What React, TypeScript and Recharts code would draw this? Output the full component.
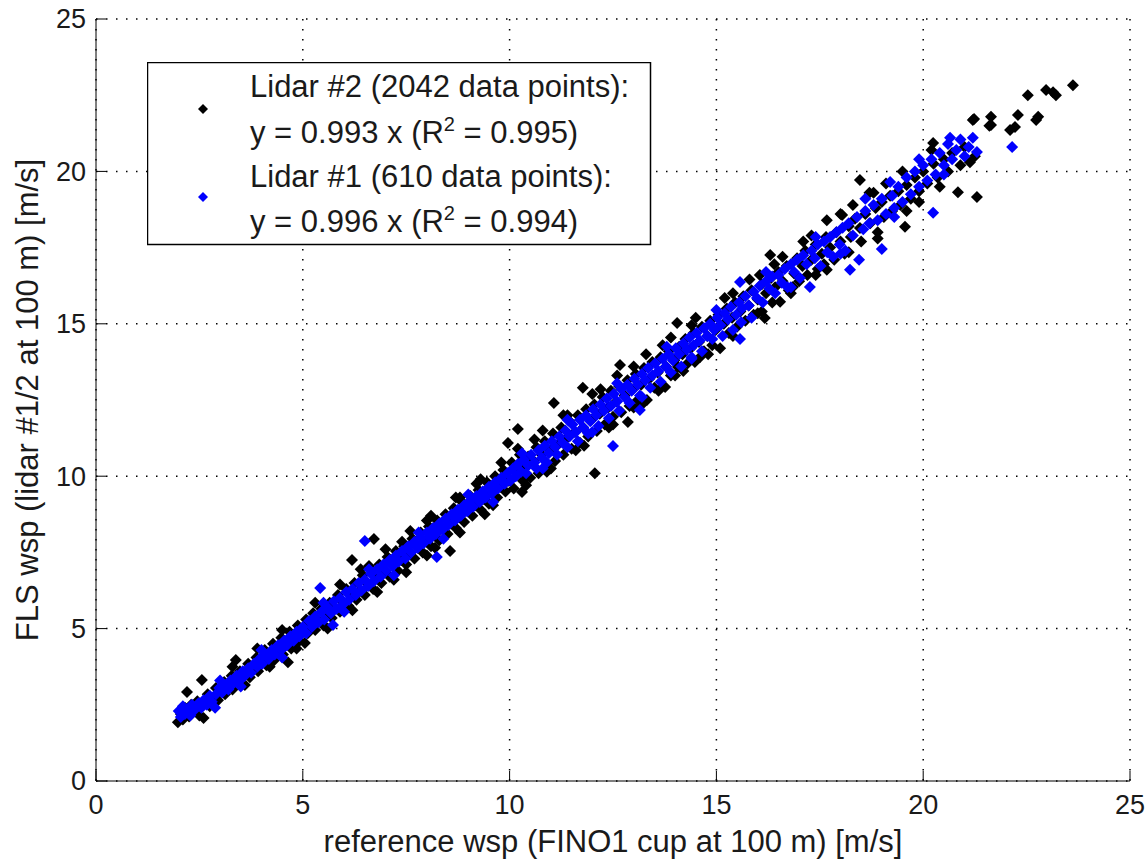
import { ScatterChart, Scatter, XAxis, YAxis, CartesianGrid, Legend } from 'recharts';

// Lidar #2 (black), [reference wsp, FLS wsp] in m/s
const lidar2Low: [number, number][] = [
  [1.98, 1.93], [2.05, 2.2], [2.1, 2.02], [2.15, 2.4], [2.2, 2.92], [2.25, 2.12], [2.3, 2.5], [2.38, 2.3],
  [2.45, 2.62], [2.5, 2.15], [2.56, 3.31], [2.6, 2.07], [2.62, 2.55], [2.7, 2.85], [2.75, 2.45], [2.82, 2.7],
  [2.9, 3.05], [2.95, 2.65], [3.02, 2.95], [3.1, 3.25], [3.12, 2.85], [3.2, 3.1], [3.28, 3.45], [3.3, 3.0],
  [3.38, 3.97], [3.4, 3.3], [3.48, 3.6], [3.52, 3.2], [3.6, 3.5], [3.68, 3.85], [3.72, 3.4], [3.8, 3.7],
  [3.88, 4.05], [3.92, 3.6], [4.0, 3.9], [4.08, 4.3], [4.12, 3.8], [4.2, 4.1], [4.28, 4.5], [4.3, 3.95],
  [4.4, 4.3], [4.48, 4.7], [4.52, 4.15], [4.6, 4.5], [4.64, 3.9], [4.68, 4.9], [4.72, 4.35], [4.8, 4.7],
  [4.88, 5.1], [4.92, 4.6], [5.0, 4.9], [5.05, 4.53],
];

const lidar2Mid: [number, number][] = [
  [5.08, 5.3], [5.12, 4.85], [5.2, 5.1], [5.25, 5.5], [5.3, 4.95], [5.38, 5.25], [5.45, 5.65], [5.5, 5.1],
  [5.58, 5.45], [5.65, 5.85], [5.7, 5.35], [5.78, 5.65], [5.85, 6.1], [5.9, 5.55], [5.98, 5.85], [6.05, 6.3],
  [6.1, 5.75], [6.18, 6.05], [6.19, 7.25], [6.25, 6.5], [6.3, 5.95], [6.38, 6.25], [6.45, 6.75], [6.5, 6.1],
  [6.58, 6.45], [6.65, 6.9], [6.7, 6.3], [6.72, 7.94], [6.78, 6.65], [6.85, 7.1], [6.9, 6.5], [6.98, 6.85],
  [7.05, 7.35], [7.1, 6.7], [7.18, 7.05], [7.25, 7.55], [7.3, 6.9], [7.38, 7.25], [7.45, 7.7], [7.5, 7.1],
  [7.58, 7.45], [7.65, 7.95], [7.7, 7.3], [7.78, 7.65], [7.85, 8.15], [7.9, 7.5], [7.98, 7.85], [8.05, 8.35],
  [8.1, 7.7], [8.18, 8.05], [8.25, 8.55], [8.3, 7.9], [8.38, 8.25], [8.45, 8.75], [8.5, 8.1], [8.56, 7.55],
  [8.58, 8.45], [8.65, 8.95], [8.7, 8.3], [8.78, 8.65], [8.85, 9.15], [8.9, 8.5], [8.98, 8.85], [9.05, 9.35],
  [9.1, 8.7], [9.18, 9.05], [9.25, 9.55], [9.3, 8.9], [9.38, 9.25], [9.45, 9.8], [9.5, 9.1], [9.58, 9.45],
  [9.65, 10.0], [9.7, 9.3], [9.78, 9.65], [9.85, 10.2], [9.9, 9.5], [9.96, 11.09], [9.98, 9.85],
  [6.6, 7.05], [7.4, 7.85], [8.0, 8.55], [8.8, 9.3], [9.2, 9.75], [7.2, 6.6], [8.2, 7.65], [9.6, 9.05],
];

const lidar2High: [number, number][] = [
  [10.05, 10.45], [10.1, 9.6], [10.18, 10.1], [10.2, 11.55], [10.25, 10.7], [10.3, 9.48], [10.32, 9.85], [10.38, 10.3],
  [10.45, 10.65], [10.5, 9.95], [10.58, 10.5], [10.65, 10.95], [10.7, 10.1], [10.78, 10.7], [10.85, 11.15], [10.9, 10.35],
  [10.98, 10.85], [11.05, 11.4], [11.07, 12.4], [11.1, 10.5], [11.18, 11.05], [11.25, 11.6], [11.3, 10.7], [11.38, 11.25],
  [11.45, 11.8], [11.5, 10.9], [11.58, 11.45], [11.65, 12.0], [11.7, 11.1], [11.77, 12.9], [11.78, 11.6], [11.85, 12.2],
  [11.9, 11.3], [11.98, 11.85], [12.05, 12.35], [12.06, 10.1], [12.11, 11.48], [12.18, 12.05], [12.25, 12.6], [12.3, 11.7],
  [12.38, 12.25], [12.45, 12.8], [12.5, 11.95], [12.58, 12.45], [12.67, 13.65], [12.65, 12.95], [12.7, 12.1], [12.78, 12.65],
  [12.86, 11.78], [12.85, 13.15], [12.9, 12.3], [12.98, 12.85], [13.05, 13.35], [13.1, 12.5], [13.18, 13.0], [13.25, 13.55],
  [13.32, 12.5], [13.38, 13.2], [13.45, 13.75], [13.5, 12.9], [13.58, 13.4], [13.65, 13.9], [13.76, 12.93], [13.78, 13.6],
  [13.85, 14.1], [13.9, 13.3], [13.98, 13.8], [14.05, 15.03], [14.07, 13.58], [14.1, 14.25], [14.18, 14.0], [14.25, 14.5],
  [14.3, 13.7], [14.38, 14.2], [14.45, 14.7], [14.48, 13.75], [14.58, 14.4], [14.65, 14.9], [14.7, 14.1], [14.78, 14.6],
  [14.85, 15.1], [14.9, 14.3], [14.98, 14.8],
  [10.6, 11.2], [11.4, 12.0], [12.2, 12.85], [13.0, 13.6], [13.7, 14.3], [14.4, 14.95],
  [10.9, 10.15], [11.6, 10.85], [12.4, 11.6], [13.2, 12.35], [14.0, 13.3], [14.6, 13.9],
];

const lidar2Top: [number, number][] = [
  [15.05, 15.3], [15.09, 14.2], [15.18, 15.0], [15.25, 15.5], [15.3, 14.7], [15.38, 15.2], [15.45, 15.7], [15.5, 14.9],
  [15.58, 15.4], [15.65, 15.9], [15.7, 15.1], [15.78, 15.6], [15.85, 16.1], [15.9, 15.3], [16.0, 15.8], [16.05, 16.6],
  [16.1, 16.3], [16.17, 15.19], [16.2, 16.0], [16.3, 17.26], [16.32, 16.5], [16.35, 15.7], [16.42, 16.2], [16.54, 15.72],
  [16.5, 16.7], [16.6, 16.4], [16.7, 16.9], [16.75, 16.1], [16.85, 16.21], [16.88, 16.65], [16.95, 17.15], [17.0, 16.4],
  [17.08, 16.9], [17.15, 17.4], [17.2, 16.6], [17.3, 17.1], [17.4, 17.6], [17.45, 16.8], [17.55, 17.3], [17.67, 18.4],
  [17.67, 16.77], [17.65, 17.85], [17.75, 17.5], [17.85, 17.1], [17.9, 18.0], [18.04, 18.57], [18.0, 17.7], [18.1, 17.3],
  [18.2, 18.2], [18.25, 17.85], [18.35, 18.45], [18.47, 19.72], [18.47, 18.14], [18.5, 17.7], [18.6, 18.6], [18.7, 19.3],
  [18.72, 18.3], [18.85, 18.8], [18.9, 18.0], [19.0, 19.0], [19.05, 18.5], [19.2, 19.2], [19.25, 18.7], [19.4, 19.35],
  [19.45, 18.9], [19.56, 18.18], [19.6, 19.55], [19.7, 19.1], [19.8, 19.8], [19.9, 19.35], [20.0, 20.0], [20.1, 19.6],
  [20.24, 20.93], [20.25, 20.25], [20.35, 19.8], [20.5, 20.4], [20.6, 20.0], [20.7, 20.6], [20.84, 19.32], [20.9, 20.2],
  [21.0, 20.8], [21.13, 20.3], [21.2, 21.69], [21.3, 19.16], [21.25, 20.5], [21.6, 21.5], [21.23, 21.72], [21.64, 21.79],
  [21.64, 21.52], [22.1, 21.36], [22.22, 21.46], [22.29, 21.85], [22.53, 22.5], [22.73, 21.69], [22.78, 21.79], [22.97, 22.67],
  [23.14, 22.6], [23.21, 22.5], [23.62, 22.83],
  [15.4, 16.0], [16.4, 16.95], [17.1, 17.7], [18.3, 18.9], [19.1, 19.6], [16.0, 15.35], [17.6, 16.95], [19.9, 19.0],
];

// outer edge of the Lidar #2 cloud
const lidar2Edge: [number, number][] = [
  [3.3, 3.75], [3.9, 4.35], [4.5, 4.95], [3.6, 3.15], [4.2, 3.75], [4.85, 4.35],
  [5.3, 5.85], [5.9, 6.45], [6.4, 6.95], [7.0, 7.6], [7.6, 8.2], [8.1, 8.7], [8.7, 9.3], [9.3, 9.9], [9.8, 10.45],
  [5.6, 5.0], [6.2, 5.6], [6.8, 6.2], [7.5, 6.85], [8.0, 7.4], [8.8, 8.15], [9.4, 8.75],
  [10.2, 10.9], [10.8, 11.5], [11.3, 12.0], [12.0, 12.7], [12.6, 13.3], [13.3, 14.0], [13.9, 14.55], [14.5, 15.2],
  [10.4, 9.7], [11.0, 10.25], [11.8, 11.0], [12.5, 11.7], [13.0, 12.25], [13.6, 12.8], [14.2, 13.45], [14.8, 14.0],
  [15.2, 15.85], [15.8, 16.45], [16.6, 17.2], [17.3, 17.9], [18.0, 18.6], [18.8, 19.3], [19.5, 20.0], [20.2, 20.7],
  [15.4, 14.6], [16.1, 15.4], [16.8, 16.0], [17.4, 16.6], [18.2, 17.35], [18.9, 17.8], [19.6, 18.7], [20.4, 19.5],
];

// Lidar #1 (blue)
const lidar1Low: [number, number][] = [
  [2.0, 2.3], [2.05, 2.1], [2.1, 2.45], [2.15, 2.2], [2.2, 2.35], [2.28, 2.15], [2.32, 2.5], [2.4, 2.35],
  [2.48, 2.55], [2.55, 2.4], [2.6, 2.65], [2.68, 2.5], [2.75, 2.8], [2.8, 2.6], [2.88, 2.4], [2.9, 2.85],
  [2.98, 3.05], [3.05, 2.9], [3.12, 3.15], [3.2, 3.0], [3.25, 3.3], [3.32, 3.2], [3.4, 3.45], [3.48, 3.3],
  [3.55, 3.6], [3.6, 3.45], [3.68, 3.7], [3.75, 3.55], [3.82, 3.85], [3.9, 3.75], [3.95, 4.0], [4.02, 3.85],
  [4.1, 4.15], [4.18, 4.0], [4.25, 4.3], [4.32, 4.15], [4.4, 4.45], [4.48, 4.3], [4.55, 4.6], [4.62, 4.45],
  [4.7, 4.75], [4.78, 4.6], [4.85, 4.9], [4.92, 4.75],
];

const lidar1Mid: [number, number][] = [
  [5.0, 5.05], [5.08, 4.85], [5.15, 5.25], [5.22, 5.05], [5.3, 5.4], [5.38, 5.2], [5.42, 6.33], [5.45, 5.55],
  [5.52, 5.3], [5.6, 5.7], [5.68, 5.5], [5.73, 5.12], [5.75, 5.9], [5.82, 5.65], [5.9, 6.0], [5.98, 5.8],
  [6.05, 6.2], [6.12, 5.95], [6.2, 6.3], [6.28, 6.1], [6.35, 6.5], [6.42, 6.25], [6.5, 7.87], [6.5, 6.6],
  [6.58, 6.4], [6.65, 6.8], [6.72, 6.55], [6.8, 6.95], [6.88, 6.7], [6.95, 7.1], [7.02, 6.9], [7.1, 7.25],
  [7.18, 7.05], [7.25, 7.4], [7.32, 7.2], [7.4, 7.55], [7.48, 7.3], [7.55, 7.7], [7.62, 7.5], [7.7, 7.85],
  [7.78, 7.65], [7.85, 8.0], [7.92, 7.8], [8.0, 8.15], [8.08, 7.95], [8.15, 8.3], [8.22, 8.1], [8.24, 7.35],
  [8.3, 8.45], [8.38, 8.25], [8.45, 8.6], [8.52, 8.4], [8.6, 8.75], [8.68, 8.55], [8.75, 8.9], [8.82, 8.7],
  [8.9, 9.05], [8.98, 8.85], [9.05, 9.2], [9.12, 9.0], [9.2, 9.35], [9.28, 9.15], [9.35, 9.5], [9.42, 9.3],
  [9.5, 9.65], [9.58, 9.45], [9.65, 9.8], [9.72, 9.6], [9.8, 9.95], [9.88, 9.75], [9.95, 10.1],
];

const lidar1High: [number, number][] = [
  [10.02, 9.85], [10.08, 10.25], [10.15, 10.0], [10.2, 10.4], [10.28, 10.15], [10.35, 10.55], [10.4, 10.1], [10.45, 10.35],
  [10.52, 10.7], [10.6, 10.45], [10.65, 10.25], [10.7, 10.85], [10.78, 10.6], [10.85, 11.0], [10.9, 10.45], [10.95, 10.75],
  [11.02, 11.15], [11.1, 10.95], [11.15, 10.7], [11.2, 11.3], [11.28, 11.1], [11.35, 11.5], [11.4, 10.95], [11.45, 11.3],
  [11.52, 11.7], [11.6, 11.45], [11.65, 11.15], [11.7, 11.85], [11.78, 11.6], [11.85, 12.0], [11.9, 11.4], [11.95, 11.8],
  [12.02, 12.2], [12.1, 12.0], [12.15, 11.65], [12.2, 12.35], [12.28, 12.15], [12.35, 12.55], [12.4, 11.9], [12.45, 12.3],
  [12.5, 10.99], [12.52, 12.7], [12.6, 12.45], [12.65, 12.15], [12.7, 12.85], [12.78, 12.6], [12.85, 13.0], [12.9, 12.4],
  [12.95, 12.8], [13.02, 13.2], [13.1, 13.0], [13.15, 12.17], [13.15, 12.65], [13.2, 13.35], [13.28, 13.15], [13.35, 13.55],
  [13.4, 12.9], [13.45, 13.3], [13.52, 13.7], [13.6, 13.45], [13.65, 13.1], [13.7, 13.85], [13.78, 13.6], [13.85, 14.0],
  [13.9, 13.4], [13.95, 13.8], [14.02, 14.2], [14.1, 14.0], [14.15, 13.6], [14.2, 14.35], [14.28, 14.15], [14.35, 14.55],
  [14.4, 13.9], [14.45, 14.3], [14.52, 14.7], [14.6, 14.45], [14.65, 14.1], [14.7, 14.85], [14.78, 14.6], [14.85, 15.0],
  [14.9, 14.5], [14.95, 14.8],
];

const lidar1Top: [number, number][] = [
  [15.02, 15.2], [15.1, 14.95], [15.15, 14.6], [15.2, 15.35], [15.28, 15.15], [15.35, 15.55], [15.4, 14.8], [15.48, 15.3],
  [15.57, 16.37], [15.57, 14.5], [15.55, 15.7], [15.62, 15.5], [15.7, 15.9], [15.78, 15.6], [15.85, 15.2], [15.9, 16.05],
  [15.98, 15.85], [16.05, 16.25], [16.12, 15.7], [16.2, 16.4], [16.28, 16.15], [16.35, 16.55], [16.42, 16.0], [16.5, 16.6],
  [16.58, 16.35], [16.65, 16.8], [16.72, 16.2], [16.8, 16.95], [16.88, 16.7], [16.95, 17.1], [17.02, 16.5], [17.1, 17.25],
  [17.18, 16.95], [17.26, 16.21], [17.3, 17.4], [17.38, 17.15], [17.45, 17.6], [17.52, 16.9], [17.6, 17.7], [17.68, 17.35],
  [17.75, 17.85], [17.82, 17.2], [17.9, 18.0], [17.98, 17.6], [18.05, 18.15], [18.12, 17.4], [18.23, 16.77], [18.2, 18.3],
  [18.3, 17.9], [18.4, 18.5], [18.45, 17.1], [18.55, 18.1], [18.6, 18.7], [18.7, 18.3], [18.8, 18.9], [18.9, 18.4],
  [19.0, 17.45], [19.0, 19.1], [19.1, 18.6], [19.2, 19.65], [19.25, 19.2], [19.3, 18.8], [19.4, 19.5], [19.5, 19.0],
  [19.6, 19.8], [19.7, 19.25], [19.8, 20.0], [19.9, 19.5], [20.0, 20.2], [20.1, 19.7], [20.2, 20.4], [20.24, 18.64],
  [20.3, 19.9], [20.4, 20.6], [20.5, 20.2], [20.6, 20.9], [20.65, 21.1], [20.7, 20.4], [20.8, 20.7], [20.9, 21.05],
  [21.0, 20.5], [21.1, 20.8], [21.2, 21.1], [21.3, 20.64], [22.15, 20.8],
];

const lidar1Edge: [number, number][] = [
  [3.0, 3.3], [3.5, 3.1], [4.0, 4.3], [4.5, 4.05], [5.5, 5.85], [6.0, 5.55], [6.6, 6.95], [7.2, 6.75],
  [7.8, 8.15], [8.4, 7.95], [9.0, 9.4], [9.6, 9.15], [10.3, 10.75], [10.8, 10.25], [11.4, 11.85], [12.0, 11.45],
  [12.6, 13.05], [13.2, 12.6], [13.8, 14.25], [14.4, 13.85], [15.0, 15.45], [15.6, 15.05], [16.2, 16.7], [16.8, 16.2],
  [17.4, 17.85], [18.0, 17.3], [18.6, 19.1], [19.3, 18.5], [19.9, 20.4], [20.5, 19.9],
];

const axisTicks = [0, 5, 10, 15, 20, 25];

const toPoints = (rows: [number, number][]) => rows.map(([x, y]) => ({ x, y }));
const lidar2Data = toPoints([...lidar2Edge, ...lidar2Low, ...lidar2Mid, ...lidar2High, ...lidar2Top]);
const lidar1Data = toPoints([...lidar1Edge, ...lidar1Low, ...lidar1Mid, ...lidar1High, ...lidar1Top]);

const FONT = '"Liberation Sans", Arial, Helvetica, sans-serif';
const TEXT = '#1a1a1a';

const diamond = (color: string) => (props: any) => {
  const { cx, cy } = props;
  const r = 6;
  return <polygon points={`${cx},${cy - r} ${cx + r},${cy} ${cx},${cy + r} ${cx - r},${cy}`} fill={color} />;
};

const BottomTick = (props: any) => {
  const { x, y, payload } = props;
  return (
    <g>
      <line x1={x} x2={x} y1={y} y2={y - 10} stroke="#000" />
      <text x={x} y={y + 33} textAnchor="middle" fontSize={27} fontFamily={FONT} fill={TEXT}>{payload.value}</text>
    </g>
  );
};

const LeftTick = (props: any) => {
  const { x, y, payload } = props;
  return (
    <g>
      <line x1={x} x2={x + 10} y1={y} y2={y} stroke="#000" />
      <text x={x - 10} y={y} dy="0.35em" textAnchor="end" fontSize={27} fontFamily={FONT} fill={TEXT}>{payload.value}</text>
    </g>
  );
};

const TopTick = (props: any) => {
  const { x, y } = props;
  return <line x1={x} x2={x} y1={y} y2={y + 10} stroke="#000" />;
};

const RightTick = (props: any) => {
  const { x, y } = props;
  return <line x1={x} x2={x - 10} y1={y} y2={y} stroke="#000" />;
};

const LegendBox = () => (
  <svg width={505} height={184} style={{ display: 'block' }}>
    <rect x={0.5} y={0.5} width={503} height={182} fill="#fff" stroke="#000" strokeWidth={1.5} />
    <polygon points="56,42 61,47 56,52 51,47" fill="#000" />
    <polygon points="56,130 61,135 56,140 51,135" fill="#0000ff" />
    <g fontFamily={FONT} fontSize={31} fill={TEXT}>
      <text x={103} y={35}>Lidar #2 (2042 data points):</text>
      <text x={103} y={81}>
        y = 0.993 x (R<tspan dy={-12} fontSize={20}>2</tspan><tspan dy={12}> = 0.995)</tspan>
      </text>
      <text x={103} y={125}>Lidar #1 (610 data points):</text>
      <text x={103} y={170}>
        y = 0.996 x (R<tspan dy={-12} fontSize={20}>2</tspan><tspan dy={12}> = 0.994)</tspan>
      </text>
    </g>
  </svg>
);

export default function App() {
  return (
    <div style={{ position: 'absolute', left: 0, top: 0, width: 1147, height: 859, background: '#fff' }}>
      <ScatterChart width={1147} height={859} margin={{ top: 19, right: 17, bottom: 28, left: 36 }}>
        <CartesianGrid stroke="#000" strokeDasharray="1.5 8.5" strokeWidth={1.5} />
        <XAxis
          dataKey="x" type="number" domain={[0, 25]} ticks={axisTicks} height={50}
          axisLine={{ stroke: '#000' }} tickLine={false} tickSize={0} tickMargin={0} tick={<BottomTick />}
          label={{
            content: (p: any) => {
              const vb = p.viewBox;
              return (
                <text x={vb.x + vb.width / 2} y={vb.y + 71} textAnchor="middle" fontSize={31} fontFamily={FONT} fill={TEXT}>
                  reference wsp (FINO1 cup at 100 m) [m/s]
                </text>
              );
            },
          }}
        />
        <YAxis
          dataKey="y" type="number" domain={[0, 25]} ticks={axisTicks} width={60}
          axisLine={{ stroke: '#000' }} tickLine={false} tickSize={0} tickMargin={0} tick={<LeftTick />}
          label={{
            content: () => (
              <text x={38} y={400} transform="rotate(-90 38 400)" textAnchor="middle" fontSize={31} fontFamily={FONT} fill={TEXT}>
                FLS wsp (lidar #1/2 at 100 m) [m/s]
              </text>
            ),
          }}
        />
        <XAxis
          xAxisId="top" orientation="top" dataKey="x" type="number" domain={[0, 25]} ticks={axisTicks} height={0}
          axisLine={{ stroke: '#000' }} tickLine={false} tickSize={0} tickMargin={0} tick={<TopTick />}
        />
        <YAxis
          yAxisId="right" orientation="right" dataKey="y" type="number" domain={[0, 25]} ticks={axisTicks} width={0}
          axisLine={{ stroke: '#000' }} tickLine={false} tickSize={0} tickMargin={0} tick={<RightTick />}
        />
        <Legend
          layout="vertical" align="center" verticalAlign="middle"
          wrapperStyle={{ left: 147, top: 62, width: 505, height: 184 }}
          content={() => <LegendBox />}
        />
        <Scatter name="Lidar #2" data={lidar2Data} fill="#000" shape={diamond('#000')} isAnimationActive={false} />
        <Scatter name="Lidar #1" data={lidar1Data} fill="#0000ff" shape={diamond('#0000ff')} isAnimationActive={false} />
      </ScatterChart>
    </div>
  );
}
